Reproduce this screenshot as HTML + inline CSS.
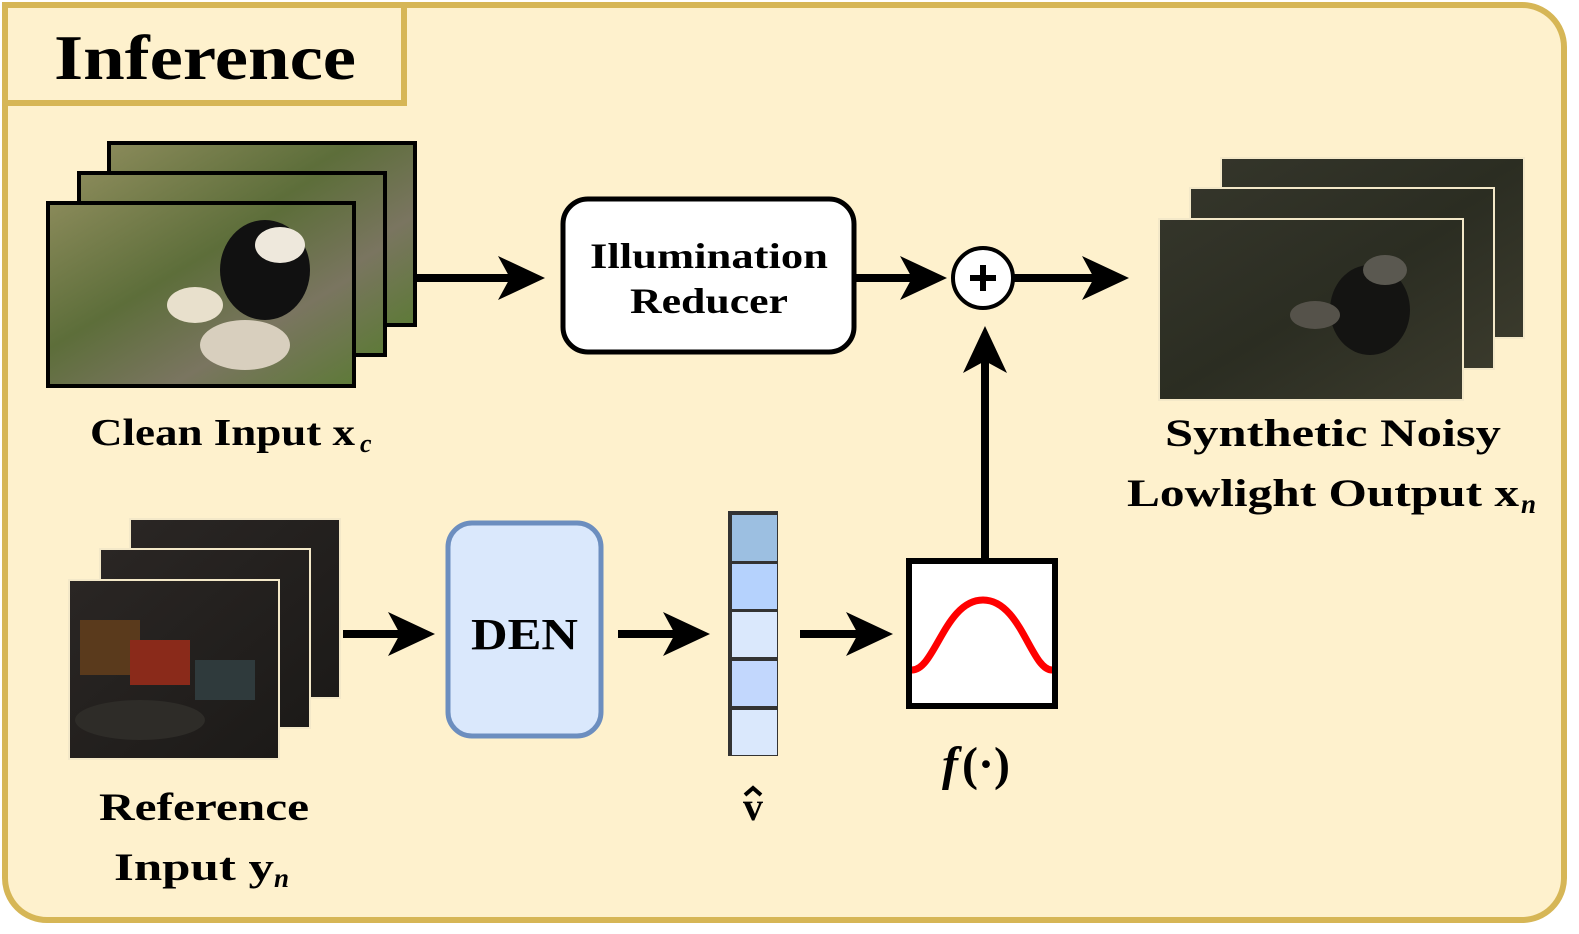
<!DOCTYPE html>
<html><head><meta charset="utf-8"><style>
html,body{margin:0;padding:0;background:#fff;overflow:hidden;width:1579px;height:934px}
svg{display:block}
text{font-family:"Liberation Serif",serif;font-weight:bold;fill:#000}
</style></head><body>
<svg width="1579" height="934" viewBox="0 0 1579 934" xmlns="http://www.w3.org/2000/svg">
<defs>
<linearGradient id="pg" x1="0" y1="0" x2="1" y2="1">
<stop offset="0" stop-color="#8a8a5a"/><stop offset="0.4" stop-color="#5d6e3a"/><stop offset="0.7" stop-color="#7a7560"/><stop offset="1" stop-color="#5e7a38"/>
</linearGradient>
<linearGradient id="ng" x1="0" y1="0" x2="1" y2="1">
<stop offset="0" stop-color="#34352a"/><stop offset="0.5" stop-color="#2b2d22"/><stop offset="1" stop-color="#3a3a2c"/>
</linearGradient>
<linearGradient id="rg" x1="0" y1="0" x2="1" y2="1">
<stop offset="0" stop-color="#2a2624"/><stop offset="1" stop-color="#1c1a18"/>
</linearGradient>
</defs>
<rect x="5" y="5" width="1559" height="915" rx="42" fill="#fef1cd" stroke="#d6b656" stroke-width="6"/>
<rect x="5" y="5" width="399" height="98" fill="#fef1cd" stroke="#d6b656" stroke-width="6"/>
<text x="54" y="79" font-size="64" textLength="302" lengthAdjust="spacingAndGlyphs">Inference</text>

<rect x="109" y="143" width="306" height="182" fill="url(#pg)" stroke="#000" stroke-width="4"/>
<rect x="79" y="173" width="306" height="182" fill="url(#pg)" stroke="#000" stroke-width="4"/>
<rect x="48" y="203" width="306" height="183" fill="url(#pg)" stroke="#000" stroke-width="4"/>
<ellipse cx="265" cy="270" rx="45" ry="50" fill="#111"/>
<ellipse cx="280" cy="245" rx="25" ry="18" fill="#eee8dc"/>
<ellipse cx="195" cy="305" rx="28" ry="18" fill="#e8e0cc"/>
<ellipse cx="245" cy="345" rx="45" ry="25" fill="#d8cfbe"/>
<text x="90" y="445" font-size="38" textLength="265" lengthAdjust="spacingAndGlyphs">Clean Input x</text>
<text x="360" y="452" font-size="26" font-style="italic" font-weight="normal">c</text>

<rect x="563" y="199" width="291" height="153" rx="25" fill="#fff" stroke="#000" stroke-width="5"/>
<text x="590" y="268" font-size="36" textLength="238" lengthAdjust="spacingAndGlyphs">Illumination</text>
<text x="630" y="313" font-size="36" textLength="158" lengthAdjust="spacingAndGlyphs">Reducer</text>

<circle cx="983" cy="278" r="30" fill="#fff" stroke="#000" stroke-width="4"/>
<line x1="970" y1="278" x2="996" y2="278" stroke="#000" stroke-width="6"/>
<line x1="983" y1="265" x2="983" y2="291" stroke="#000" stroke-width="6"/>

<rect x="1221" y="158" width="303" height="180" fill="url(#ng)" stroke="#f3e8c8" stroke-width="2"/>
<rect x="1190" y="188" width="304" height="181" fill="url(#ng)" stroke="#f3e8c8" stroke-width="2"/>
<rect x="1159" y="219" width="304" height="181" fill="url(#ng)" stroke="#f3e8c8" stroke-width="2"/>
<ellipse cx="1370" cy="310" rx="40" ry="45" fill="#141412"/>
<ellipse cx="1385" cy="270" rx="22" ry="15" fill="#5a5850"/>
<ellipse cx="1315" cy="315" rx="25" ry="14" fill="#55524a"/>
<text x="1165" y="446" font-size="39" textLength="336" lengthAdjust="spacingAndGlyphs">Synthetic Noisy</text>
<text x="1127" y="506" font-size="39" textLength="392" lengthAdjust="spacingAndGlyphs">Lowlight Output x</text>
<text x="1521" y="513" font-size="27" font-style="italic" font-weight="normal">n</text>

<rect x="130" y="519" width="210" height="179" fill="url(#rg)" stroke="#f3e8c8" stroke-width="2"/>
<rect x="100" y="549" width="210" height="179" fill="url(#rg)" stroke="#f3e8c8" stroke-width="2"/>
<rect x="69" y="580" width="210" height="179" fill="url(#rg)" stroke="#f3e8c8" stroke-width="2"/>
<rect x="80" y="620" width="60" height="55" fill="#5a3a1c"/>
<rect x="130" y="640" width="60" height="45" fill="#8a2a1a"/>
<rect x="195" y="660" width="60" height="40" fill="#2f3a3c"/>
<ellipse cx="140" cy="720" rx="65" ry="20" fill="#2e2c28"/>
<text x="99" y="820" font-size="39" textLength="210" lengthAdjust="spacingAndGlyphs">Reference</text>
<text x="114" y="880" font-size="39" textLength="160" lengthAdjust="spacingAndGlyphs">Input y</text>
<text x="274" y="887" font-size="27" font-style="italic" font-weight="normal">n</text>

<rect x="448" y="523" width="153" height="213" rx="24" fill="#dae8fc" stroke="#6c8ebf" stroke-width="5"/>
<text x="471" y="649" font-size="44" textLength="107" lengthAdjust="spacingAndGlyphs">DEN</text>

<rect x="728" y="511" width="50" height="245" fill="#333"/>
<rect x="732" y="515" width="45" height="46" fill="#9cbfe1"/>
<rect x="732" y="564" width="45" height="45" fill="#b5d2fd"/>
<rect x="732" y="612" width="45" height="45" fill="#dae8fc"/>
<rect x="732" y="661" width="45" height="45" fill="#c2d7fd"/>
<rect x="732" y="710" width="45" height="45" fill="#dae8fc"/>
<text x="753" y="820" font-size="40" text-anchor="middle">v</text>
<path d="M745 795 L753 788 L761 795" fill="none" stroke="#000" stroke-width="4"/>

<rect x="909" y="561" width="146" height="145" fill="#fff" stroke="#000" stroke-width="6"/>
<path d="M912 670 C935 670 945 600 983 600 C1021 600 1031 670 1052 670" fill="none" stroke="#ff0000" stroke-width="7"/>
<text x="942" y="780" font-size="48" font-weight="normal" font-style="italic">f</text>
<text x="962" y="780" font-size="48" font-weight="normal">(·)</text>

<g stroke="#000" stroke-width="8" fill="none">
<line x1="415" y1="278" x2="510" y2="278"/>
<line x1="854" y1="278" x2="912" y2="278"/>
<line x1="1013" y1="278" x2="1095" y2="278"/>
<line x1="985" y1="560" x2="985" y2="360"/>
<line x1="343" y1="634" x2="400" y2="634"/>
<line x1="618" y1="634" x2="675" y2="634"/>
<line x1="800" y1="634" x2="860" y2="634"/>
</g>
<g fill="#000">
<polygon points="545,278 498,256 510,278 498,300"/>
<polygon points="947,278 900,256 912,278 900,300"/>
<polygon points="1129,278 1082,256 1094,278 1082,300"/>
<polygon points="985,326 963,373 985,361 1007,373"/>
<polygon points="435,634 388,612 400,634 388,656"/>
<polygon points="710,634 663,612 675,634 663,656"/>
<polygon points="893,634 846,612 858,634 846,656"/>
</g>
</svg>
</body></html>
